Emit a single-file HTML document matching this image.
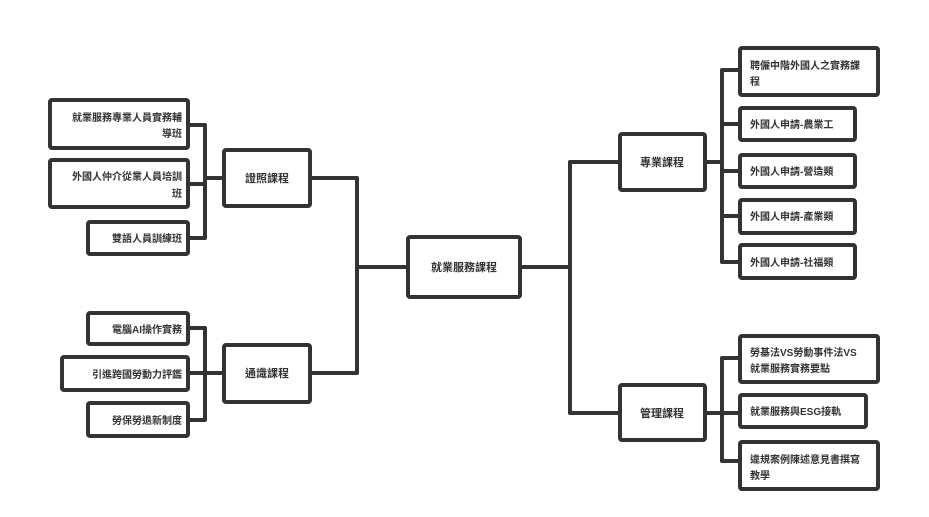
<!DOCTYPE html>
<html><head><meta charset="utf-8"><style>
body{margin:0;background:#fff;width:929px;height:512px;overflow:hidden}
svg text{font-family:"Liberation Sans","Noto Sans CJK TC",sans-serif;font-size:10px;font-weight:bold;fill:#333}
</style></head><body>
<svg width="929" height="512" viewBox="0 0 929 512" xmlns="http://www.w3.org/2000/svg">
<g fill="none" stroke="#333" stroke-width="4" stroke-linecap="round" stroke-linejoin="round">
<!-- connectors -->
<path d="M408 267 H357 M357 178 V373 M310 178 H357 M310 373 H357"/>
<path d="M520 267 H570 M570 162 V413 M570 162 H620 M570 413 H620"/>
<path d="M188 125 H205 V238 H188 M188 184 H205 M205 178 H224"/>
<path d="M188 328 H205 V420 H188 M188 373 H224"/>
<path d="M705 162 H722 M722 70 V262 M722 70 H740 M722 124 H740 M722 171 H740 M722 216 H740 M722 262 H740"/>
<path d="M705 413 H740 M722 358 V461 M722 358 H740 M722 461 H740"/>
<!-- boxes -->
<rect x="408" y="237" width="112" height="60" rx="2"/>
<rect x="224" y="150" width="86" height="56" rx="2"/>
<rect x="224" y="345" width="86" height="57" rx="2"/>
<rect x="620" y="134" width="85" height="56" rx="2"/>
<rect x="620" y="385" width="85" height="55" rx="2"/>
<rect x="50" y="100" width="138" height="48" rx="2"/>
<rect x="50" y="160" width="138" height="47" rx="2"/>
<rect x="88" y="222" width="100" height="32" rx="2"/>
<rect x="88" y="313" width="100" height="31" rx="2"/>
<rect x="62" y="357" width="126" height="33" rx="2"/>
<rect x="88" y="403" width="100" height="33" rx="2"/>
<rect x="740" y="48" width="138" height="47" rx="2"/>
<rect x="740" y="108" width="115" height="32" rx="2"/>
<rect x="740" y="155" width="115" height="32" rx="2"/>
<rect x="740" y="200" width="115" height="33" rx="2"/>
<rect x="740" y="245" width="115" height="33" rx="2"/>
<rect x="740" y="336" width="138" height="46" rx="2"/>
<rect x="740" y="395" width="126" height="32" rx="2"/>
<rect x="740" y="442" width="138" height="47" rx="2"/>
</g>
<text x="464" y="271" text-anchor="middle" style="font-size:11px">就業服務課程</text>
<text x="267" y="182" text-anchor="middle" style="font-size:11px">證照課程</text>
<text x="267" y="377" text-anchor="middle" style="font-size:11px">通識課程</text>
<text x="662" y="166" text-anchor="middle" style="font-size:11px">專業課程</text>
<text x="662" y="417" text-anchor="middle" style="font-size:11px">管理課程</text>
<g text-anchor="end">
<text x="182" y="121">就業服務專業人員實務輔</text>
<text x="182" y="137">導班</text>
<text x="182" y="180">外國人仲介從業人員培訓</text>
<text x="182" y="197">班</text>
<text x="182" y="242">雙語人員訓練班</text>
<text x="182" y="333">電腦AI操作實務</text>
<text x="182" y="378">引進跨國勞動力評鑑</text>
<text x="182" y="424">勞保勞退新制度</text>
</g>
<text x="750" y="69">聘僱中階外國人之實務課</text>
<text x="750" y="85">程</text>
<text x="750" y="128">外國人申請-農業工</text>
<text x="750" y="175">外國人申請-營造類</text>
<text x="750" y="220">外國人申請-產業類</text>
<text x="750" y="266">外國人申請-社福類</text>
<text x="750" y="356">勞基法VS勞動事件法VS</text>
<text x="750" y="372">就業服務實務要點</text>
<text x="750" y="415">就業服務與ESG接軌</text>
<text x="750" y="463">違規案例陳述意見書撰寫</text>
<text x="750" y="479">教學</text>
</svg>
</body></html>
